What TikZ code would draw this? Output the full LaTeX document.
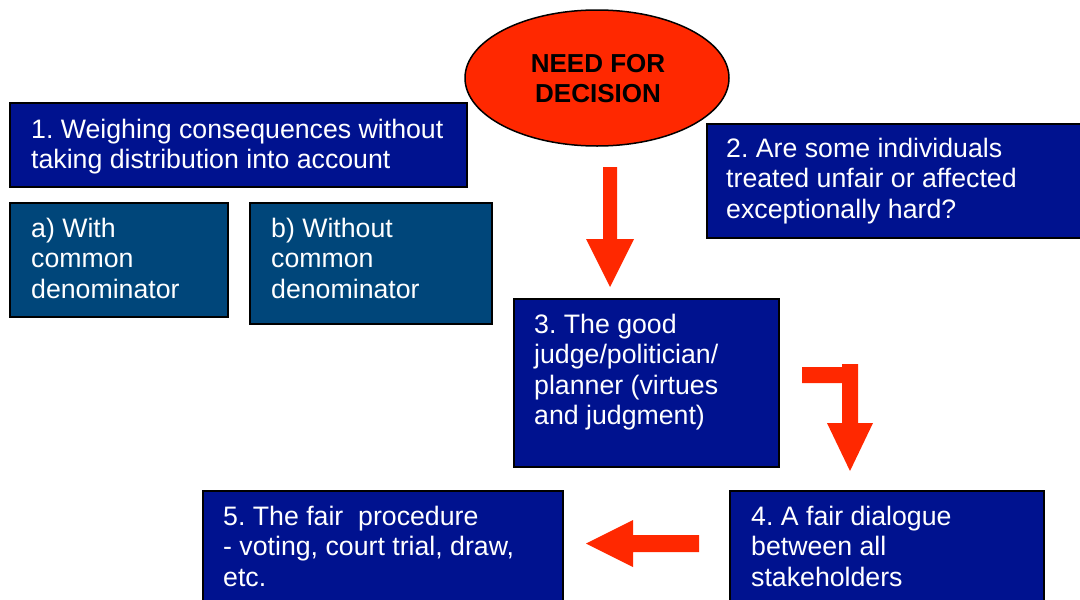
\documentclass[tikz,border=0pt]{standalone}
\usepackage{fontspec}
\setmainfont{Liberation Sans}
\usetikzlibrary{shapes.geometric}
\frenchspacing
\definecolor{boxblue}{RGB}{0,18,143}
\definecolor{boxteal}{RGB}{0,70,122}
\definecolor{arrred}{RGB}{255,40,0}
\newcommand{\mylines}[1]{\begin{tabular}[t]{@{}l@{}}#1\end{tabular}}
\newcommand{\mycenter}[1]{\begin{tabular}[t]{@{}c@{}}#1\end{tabular}}
\tikzset{
  box/.style={draw=black, line width=2pt, fill=boxblue, rectangle, inner sep=0pt, anchor=north west},
  tealbox/.style={box, fill=boxteal},
  txt/.style={text=white, inner sep=0pt, anchor=base west, font=\fontsize{26.7}{30.5}\selectfont},
  blockarrow/.style={fill=arrred, draw=none}
}
\begin{document}
\begin{tikzpicture}[x=1pt, y=-1pt]
\useasboundingbox (0,0) rectangle (1080,600);
\clip (0,0) rectangle (1080,600);
\fill[white] (0,0) rectangle (1080,600);

% ellipse
\node[ellipse, draw=black, line width=1.5pt, fill=arrred, minimum width=264pt, minimum height=136pt, inner sep=0pt] (need) at (597,78) {};
\node[inner sep=0pt, anchor=base, font=\bfseries\fontsize{26}{30}\selectfont] (needtxt) at (598,72) {\mycenter{NEED FOR\\DECISION}};

% boxes
\node[box, minimum width=457pt, minimum height=84pt] (b1) at (9,102) {};
\node[txt] (t1) at (31,138) {\mylines{1. Weighing consequences without\\taking distribution into account}};

\node[tealbox, minimum width=218pt, minimum height=114pt] (ba) at (9,202) {};
\node[txt] (ta) at (31,237) {\mylines{a) With\\common\\denominator}};

\node[tealbox, minimum width=242pt, minimum height=121pt] (bb) at (249,202) {};
\node[txt] (tb) at (271,237) {\mylines{b) Without\\common\\denominator}};

\node[box, minimum width=380pt, minimum height=114pt] (b2) at (706,123) {};
\node[txt] (t2) at (726,157) {\mylines{2. Are some individuals\\treated unfair or affected\\exceptionally hard?}};

\node[box, minimum width=265pt, minimum height=168pt] (b3) at (513,298) {};
\node[txt] (t3) at (534,333) {\mylines{3. The good\\judge/politician/\\planner (virtues\\and judgment)}};

\node[box, minimum width=314pt, minimum height=120pt] (b4) at (729,490) {};
\node[txt] (t4) at (751,525) {\mylines{4. A fair dialogue\\between all\\stakeholders}};

\node[box, minimum width=360pt, minimum height=120pt] (b5) at (202,490) {};
\node[txt] (t5) at (223,525) {\mylines{5. The fair\ \ procedure\\- voting, court trial, draw,\\etc.}};

% block arrows
\fill[blockarrow] (603,167) -- (617,167) -- (617,239) -- (634,239) -- (610,287) -- (586,239) -- (603,239) -- cycle;
\fill[blockarrow] (802,367) -- (842,367) -- (842,364) -- (858,364) -- (858,423) -- (873,423) -- (850,471) -- (827,423) -- (842,423) -- (842,383) -- (802,383) -- cycle;
\fill[blockarrow] (699,535) -- (633,535) -- (633,520) -- (586,543.5) -- (633,567) -- (633,552) -- (699,552) -- cycle;
\end{tikzpicture}
\end{document}
